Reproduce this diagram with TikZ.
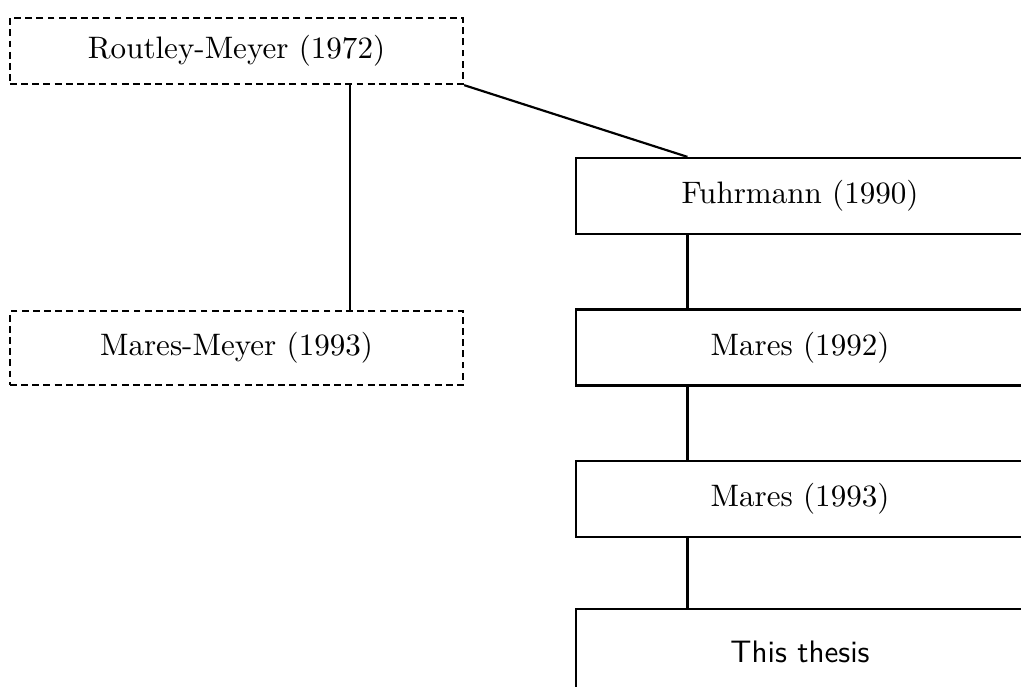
\documentclass[tikz,border=0pt]{standalone}
\usepackage{amsmath}
\usetikzlibrary{calc}
\tikzset{
  work/.style={draw, line width=0.7pt, minimum width=144.3pt, minimum height=24.5pt, inner sep=0pt},
  oldwork/.style={work, dash pattern=on 2.2pt off 1.4pt, minimum width=145.9pt},
  link/.style={line width=0.7pt}
}

\begin{document}
\begin{tikzpicture}[x=0.322pt,y=-0.322pt]
  \clip (0,0) rectangle (1021,687);
  \useasboundingbox (0,0) rectangle (1021,687);
  \node[oldwork, minimum height=21.3pt] (rm) at (236.5,51) {Routley-Meyer (1972)};
  \node[oldwork, minimum height=23.8pt] (mm) at (236.5,348) {Mares-Meyer (1993)};
  \node[work] (fu) at (800,196) {Fuhrmann (1990)};
  \node[work] (ma) at (800,347.5) {Mares (1992)};
  \node[work] (mb) at (800,499) {Mares (1993)};
  \node[work, minimum height=27.7pt] (th) at (800,652) {\sffamily This thesis};
  \coordinate (tap) at ($(rm.south west)!.75!(rm.south east)$);
  \draw[link] (tap) -- (tap |- mm.north);
  \draw[link] (rm.south east) -- ($(fu.north west)!.5!(fu.north)$);
  \draw[link] ($(fu.south west)!.5!(fu.south)$) -- ($(ma.north west)!.5!(ma.north)$);
  \draw[link] ($(ma.south west)!.5!(ma.south)$) -- ($(mb.north west)!.5!(mb.north)$);
  \draw[link] ($(mb.south west)!.5!(mb.south)$) -- ($(th.north west)!.5!(th.north)$);
\end{tikzpicture}
\end{document}
